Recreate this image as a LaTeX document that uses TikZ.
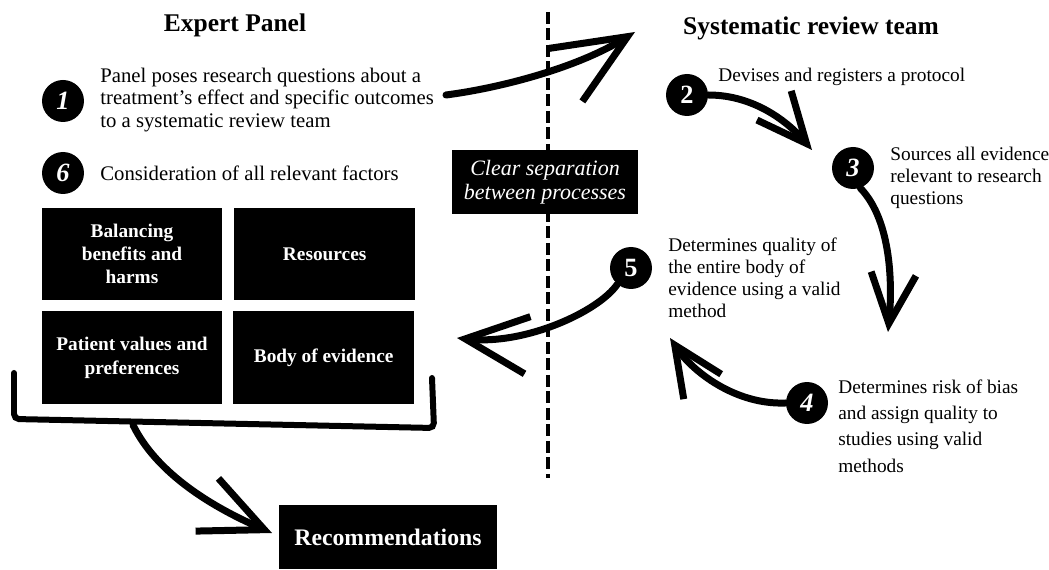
\documentclass[tikz,border=0pt]{standalone}
\usepackage{fontspec}
\setmainfont{Liberation Serif}
\usepackage{tikz}
\usetikzlibrary{positioning,arrows.meta}

\begin{document}
\begin{tikzpicture}[x=0.02cm,y=-0.02cm,
    num/.style={circle, fill=black, text=white, minimum size=0.84cm, inner sep=0pt, font=\fontsize{15}{15}\selectfont\bfseries},
    txt/.style={align=left, anchor=west, inner sep=0pt, font=\fontsize{11}{12.5}\selectfont},
    factor/.style={fill=black, text=white, minimum width=3.62cm, minimum height=1.86cm, inner sep=2pt, align=center, font=\fontsize{11}{13.3}\selectfont\bfseries},
    splitbox/.style={fill=black, text=white, minimum width=3.72cm, minimum height=1.3cm, align=center, font=\fontsize{12.5}{13.6}\selectfont\itshape},
    flow/.style={line width=0.14cm, line cap=round, -{Straight Barb[length=1cm, width=0.9cm]}},
    bigflow/.style={line width=0.14cm, line cap=round, -{Straight Barb[length=1.25cm, width=1.15cm]}}]
    \useasboundingbox (0,0) rectangle (1049,570);

    % Divider
    \draw[line width=0.08cm, dash pattern=on 0.24cm off 0.09cm] (548,12) -- (548,478);

    % Titles
    \node[font=\fontsize{14.5}{16}\selectfont\bfseries] (ep) at (235,25) {Expert Panel};
    \node[font=\fontsize{14.5}{16}\selectfont\bfseries] (srt) at (811,28) {Systematic review team};

    % Nodes
    \node[num] (n1) at (63,101) {\itshape 1};
    \node[num] (n6) at (63,173) {\itshape 6};
    \node[num] (n2) at (687,95) {2};
    \node[num] (n3) at (853,168) {\itshape 3};
    \node[num] (n4) at (807,403) {\itshape 4};
    \node[num] (n5) at (631,268) {5};

    \node[txt, font=\fontsize{11.8}{12.8}\selectfont] (q1) at (100,100) {Panel poses research questions about a\\ treatment's effect and specific outcomes\\ to a systematic review team};
    \node[txt, font=\fontsize{11.8}{12.8}\selectfont] (q6) at (100,173) {Consideration of all relevant factors};
    \node[txt] (q2) at (718,77) {Devises and registers a protocol};
    \node[txt] (q3) at (890,178) {Sources all evidence\\ relevant to research\\ questions};
    \node[txt] (q5) at (668,278) {Determines quality of\\ the entire body of\\ evidence using a valid\\ method};
    \node[txt, font=\fontsize{11}{15}\selectfont] (q4) at (838,426) {Determines risk of bias\\ and assign quality to\\ studies using valid\\ methods};

    \node[splitbox] (split) at (545,182) {Clear separation\\ between processes};

    \node[factor] (bal) at (132,254) {Balancing\\ benefits and\\ harms};
    \node[factor, right=0.22cm of bal] (res) {Resources};
    \node[factor, below=0.2cm of bal] (pat) {Patient values and\\ preferences};
    \node[factor, right=0.2cm of pat] (body) {Body of evidence};

    \node[fill=black, text=white, minimum width=4.38cm, minimum height=1.3cm, font=\fontsize{13.5}{15}\selectfont\bfseries] (rec) at (388,537) {Recommendations};

    % Bracket
    \draw[line width=0.12cm, line cap=round, rounded corners=0.1cm] (14,373) -- (14,419) -- (434,428) -- (432,378);
    \coordinate (brk) at (133,425);

    % Arrow ends
    \coordinate (t1) at (635,32);
    \coordinate (t2) at (812,150);
    \coordinate (t3) at (888,332);
    \coordinate (t4) at (670,338);
    \coordinate (t5) at (457,338);
    \coordinate (t6) at (272,533);
    \coordinate (s1) at (446,95);

    % Arrows
    \draw[bigflow, -{Straight Barb[length=1.45cm, width=1.25cm]}] (s1) .. controls (500,88) and (577,68) .. (t1);
    \draw[flow] (n2.east) .. controls (755,95) and (789,123) .. (t2);
    \draw[flow] (n3.-70) .. controls (893,222) and (892,290) .. (t3);
    \draw[flow] (n4.west) .. controls (735,405) and (692,371) .. (t4);
    \draw[bigflow] (n5.-130) .. controls (598,312) and (525,345) .. (t5);
    \draw[bigflow] (brk) .. controls (160,480) and (226,513) .. (t6);

\end{tikzpicture}
\end{document}
